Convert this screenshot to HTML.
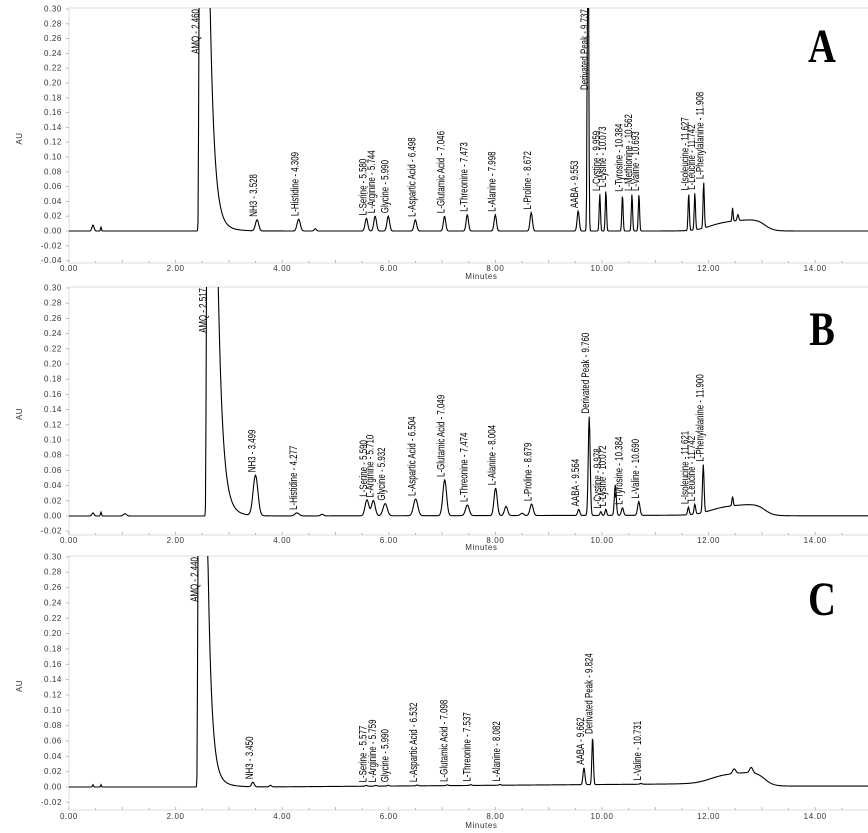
<!DOCTYPE html>
<html><head><meta charset="utf-8"><style>
html,body{margin:0;padding:0;background:#fff;}
svg{display:block;}
.tk{font-family:"Liberation Sans",sans-serif;font-size:8px;fill:#333;letter-spacing:0.6px;}
.lb{font-family:"Liberation Sans",sans-serif;font-size:12px;fill:#000;}
.pl{font-family:"Liberation Serif",serif;font-weight:bold;font-size:48px;fill:#000;}
</style></head><body>
<svg id="chart" width="868" height="833" viewBox="0 0 868 833" xmlns="http://www.w3.org/2000/svg"></svg>
<script>
// ----- Panel A data -----
const aTimes   = [0.45,0.60,3.528,4.309,4.62,5.580,5.744,5.990,6.498,7.046,7.473,7.998,8.672,9.553,9.737,9.959,10.073,10.384,10.562,10.693,11.627,11.742,11.908,12.45,12.55];
const aHeights = [0.008,0.006,0.015,0.016,0.003,0.017,0.02,0.02,0.015,0.02,0.022,0.022,0.025,0.027,0.6,0.05,0.055,0.049,0.05,0.05,0.05,0.05,0.062,0.018,0.008];
const aWidths  = [0.02,0.008,0.03,0.03,0.02,0.025,0.025,0.025,0.025,0.022,0.022,0.022,0.022,0.02,0.012,0.012,0.012,0.012,0.012,0.012,0.012,0.012,0.012,0.01,0.015];
const aLabels  = [null,null,"NH3 - 3.528","L-Histidine - 4.309",null,"L-Serine - 5.580","L-Arginine - 5.744","Glycine - 5.990","L-Aspartic Acid - 6.498","L-Glutamic Acid - 7.046","L-Threonine - 7.473","L-Alanine - 7.998","L-Proline - 8.672","AABA - 9.553","Derivated Peak - 9.737","L-Cystine - 9.959","L-Lysine - 10.073","L-Tyrosine - 10.384","L-Methionine - 10.562","L-Valine - 10.693","L-Isoleucine - 11.627","L-Leucine - 11.742","L-Phenylalanine - 11.908",null,null];
const aSolvent = [2.46, 3.0, 0.08, "AMQ - 2.460"];
const aHump = [0.015];
// ----- Panel B data -----
const bTimes   = [0.45,0.60,1.05,3.499,4.277,4.75,5.590,5.710,5.932,6.504,7.049,7.474,8.004,8.20,8.50,8.679,9.564,9.760,9.978,10.072,10.25,10.384,10.690,11.621,11.742,11.900,12.45];
const bHeights = [0.004,0.005,0.003,0.053,0.004,0.002,0.021,0.02,0.016,0.022,0.047,0.014,0.036,0.012,0.003,0.015,0.008,0.13,0.005,0.008,0.04,0.01,0.018,0.01,0.013,0.063,0.012];
const bWidths  = [0.02,0.01,0.03,0.045,0.04,0.03,0.035,0.035,0.04,0.04,0.035,0.035,0.03,0.03,0.03,0.03,0.02,0.018,0.015,0.015,0.018,0.02,0.022,0.015,0.015,0.015,0.012];
const bLabels  = [null,null,null,"NH3 - 3.499","L-Histidine - 4.277",null,"L-Serine - 5.590","L-Arginine - 5.710","Glycine - 5.932","L-Aspartic Acid - 6.504","L-Glutamic Acid - 7.049","L-Threonine - 7.474","L-Alanine - 8.004",null,null,"L-Proline - 8.679","AABA - 9.564","Derivated Peak - 9.760","L-Cystine - 9.978","L-Lysine - 10.072",null,"L-Tyrosine - 10.384","L-Valine - 10.690","L-Isoleucine - 11.621","L-Leucine - 11.742","L-Phenylalanine - 11.900",null];
const bSolvent = [2.60, 3.0, 0.085, "AMQ - 2.517"];
const bHump = [0.014];
// ----- Panel C data -----
const cTimes   = [0.45,0.60,3.450,3.78,5.577,5.759,5.990,6.532,7.098,7.537,8.082,9.662,9.824,10.731,12.48,12.80];
const cHeights = [0.003,0.003,0.006,0.002,0.001,0.001,0.001,0.001,0.001,0.001,0.001,0.022,0.062,0.001,0.006,0.007];
const cWidths  = [0.01,0.008,0.025,0.02,0.02,0.02,0.02,0.02,0.02,0.02,0.02,0.018,0.014,0.02,0.03,0.03];
const cLabels  = [null,null,"NH3 - 3.450",null,"L-Serine - 5.577","L-Arginine - 5.759","Glycine - 5.990","L-Aspartic Acid - 6.532","L-Glutamic Acid - 7.098","L-Threonine - 7.537","L-Alanine - 8.082","AABA - 9.662","Derivated Peak - 9.824","L-Valine - 10.731",null,null];
const cSolvent = [2.44, 3.0, 0.07, "AMQ - 2.440"];
const cHump = [0.015];
const xTickLabels = ["0.00","2.00","4.00","6.00","8.00","10.00","12.00","14.00"];

const NS="http://www.w3.org/2000/svg";
const svg=document.getElementById('chart');
function mk(tag,attrs,parent){const e=document.createElementNS(NS,tag);for(const k in attrs)e.setAttribute(k,attrs[k]);(parent||svg).appendChild(e);return e;}
const X0=69, PPM=53.3;
function xs(t){return X0+t*PPM;}

const panels=[
 {id:'a',top:8,y0:231,ppu:740,ymin:-0.04,bottom:263,lab:271,min:279,letter:'A',ly:62,times:aTimes,h:aHeights,w:aWidths,labels:aLabels,solv:aSolvent,hump:aHump,drift:0},
 {id:'b',top:287,y0:516,ppu:760,ymin:-0.026,bottom:535,lab:543,min:550,letter:'B',ly:345,times:bTimes,h:bHeights,w:bWidths,labels:bLabels,solv:bSolvent,hump:bHump,drift:0.001},
 {id:'c',top:556,y0:787,ppu:767,ymin:-0.03,bottom:810,lab:819,min:828,letter:'C',ly:615,times:cTimes,h:cHeights,w:cWidths,labels:cLabels,solv:cSolvent,hump:cHump,drift:0.004}
];

function baseline(p,t){
  const sg=v=>1/(1+Math.exp(-v));
  const hump=p.hump[0]*(sg((t-12.0)/0.15)-sg((t-13.05)/0.08))*(0.8+0.3*(t-12));
  const drift=p.drift*Math.min(1,Math.max(0,(t-3.5)/8))*(1-sg((t-13)/0.1))+p.drift*0.3*sg((t-13)/0.1);
  return hump+drift;
}
function solvent(p,t){
  const [t0,H,tau]=p.solv;
  if(t<t0) return H*Math.exp(-Math.pow((t-t0)/0.012,2)/2);
  const d=t-t0;
  return H*Math.exp(-d/tau)+0.05*Math.exp(-d/0.2);
}
function sig(p,t){
  let v=baseline(p,t)+solvent(p,t);
  for(let i=0;i<p.times.length;i++){v+=p.h[i]*Math.exp(-Math.pow((t-p.times[i])/p.w[i],2)/2);}
  return v;
}

panels.forEach(p=>{
  const g=mk('g',{});
  
  
  const ys=v=>p.y0-v*p.ppu;
  const fr=mk('path',{d:`M${X0} ${p.bottom} L${X0} ${p.top} L868 ${p.top}`,fill:'none',stroke:'#ddd','stroke-width':1},g);
  
  
  const xa=mk('line',{x1:X0,x2:868,y1:p.bottom,y2:p.bottom,stroke:'#ddd','stroke-width':1},g);
  
  
  for(let k=15;k>=Math.ceil(p.ymin/0.02-1e-9);k--){
    const v=k*0.02, y=ys(v);
    mk('line',{x1:X0-3,x2:X0,y1:y,y2:y,stroke:'#bbb'},g);
    const t=mk('text',{x:X0-7,y:y+2.5,'text-anchor':'end',class:'tk'},g);
    
    
    t.textContent=(v<-1e-9?'-':'')+Math.abs(v).toFixed(2);
  }
  const yt=mk('text',{x:0,y:0,class:'tk',transform:`translate(22 ${(p.top+p.bottom)/2+3}) rotate(-90)`,'text-anchor':'middle'},g);
  
  
  yt.textContent='AU';
  for(let m=0;m<=30;m++){const x=xs(m*0.5);mk('line',{x1:x,x2:x,y1:p.bottom,y2:p.bottom-(m%2?2:3),stroke:'#bbb'},g);}
  xTickLabels.forEach((s,i)=>{
    const t=mk('text',{x:xs(i*2),y:p.lab,'text-anchor':'middle',class:'tk'},g);
    
    
    t.textContent=s;
  });
  const xt=mk('text',{x:xs(8)-14,y:p.min,'text-anchor':'middle',class:'tk'},g);
  
  
  xt.textContent='Minutes';
  const cp=mk('clipPath',{id:'clip'+p.id},g);
  mk('rect',{x:X0,y:p.top,width:868-X0,height:p.bottom-p.top},cp);
  let d='';
  for(let i=0;i<=1500;i++){const t=i*0.01;const v=sig(p,t);d+=(i?'L':'M')+xs(t).toFixed(2)+' '+Math.max(p.top-5,ys(v)).toFixed(2);}
  const tr=mk('path',{d:d,fill:'none',stroke:'#000','stroke-width':1.1,'clip-path':`url(#clip${p.id})`},g);
  
  
  const allT=[p.solv[0]].concat(p.times), allL=[p.solv[3]].concat(p.labels);
  allT.forEach((t0,i)=>{
    const s=allL[i]; if(!s) return;
    let pk=0; for(let k=-5;k<=5;k++) pk=Math.max(pk,sig(p,t0+k*0.005));
    const x=xs(t0)+(i===0?-1:0);
    const lt=mk('text',{class:'lb'},g);
    
    
    lt.textContent=s;
    const len=lt.getComputedTextLength()*0.66;
    let y=ys(pk)-3;
    if(y-len<p.top) y=p.top+len+1;
    lt.setAttribute('transform',`translate(${x} ${y}) rotate(-90) scale(0.66 0.95)`);
  });
  const L=mk('text',{x:822,y:p.ly,'text-anchor':'middle',class:'pl',transform:`translate(822 ${p.ly}) scale(0.8 1) translate(-822 ${-p.ly})`},g);
  
  
  L.textContent=p.letter;
});
</script>
</body></html>
